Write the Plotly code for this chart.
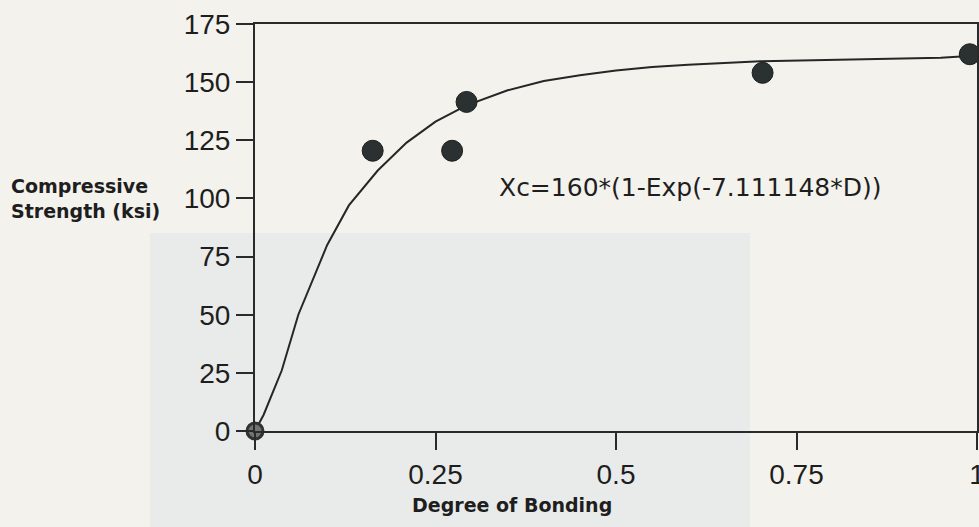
import plotly.graph_objects as go

# Measured data points (Degree of Bonding vs Compressive Strength, ksi)
bond_x = [0.0, 0.163, 0.273, 0.293, 0.703, 0.99]
strength_y = [0.0, 120.5, 120.5, 141.5, 154.0, 162.0]

# Fitted curve
curve_x = [0.0, 0.012, 0.037, 0.06, 0.1, 0.13, 0.17, 0.21, 0.25, 0.293, 0.35, 0.4,
           0.45, 0.5, 0.55, 0.6, 0.7, 0.8, 0.9, 0.95, 1.0]
curve_y = [0.0, 7.0, 26.0, 50.0, 80.0, 97.0, 112.0, 124.0, 133.0, 140.0, 146.5, 150.5,
           153.0, 155.0, 156.5, 157.5, 159.0, 159.5, 160.0, 160.5, 161.5]

x_ticks = [0, 0.25, 0.5, 0.75, 1]
x_tick_labels = ["0", "0.25", "0.5", "0.75", "1"]
y_ticks = [0, 25, 50, 75, 100, 125, 150, 175]
y_tick_labels = ["0", "25", "50", "75", "100", "125", "150", "175"]

equation = "Xc=160*(1-Exp(-7.111148*D))"
x_title = "Degree of Bonding"
y_title = "Compressive<br>Strength (ksi)"

W, H = 979, 527
L, R, T, B = 255, 2, 24, 96
PW, PH = W - L - R, H - T - B
BG = "#f3f2ed"


def px(xp):
    return (xp - L) / PW


def py(yp):
    return (H - B - yp) / PH


fig = go.Figure()

fig.add_trace(go.Scatter(
    x=curve_x, y=curve_y, mode="lines",
    line=dict(color="#262626", width=2),
    hoverinfo="skip", showlegend=False,
))

fig.add_trace(go.Scatter(
    x=bond_x[1:], y=strength_y[1:], mode="markers",
    marker=dict(size=21, color="#2b3030", line=dict(color="#1c1f1f", width=1)),
    cliponaxis=False, showlegend=False,
))
fig.add_trace(go.Scatter(
    x=bond_x[:1], y=strength_y[:1], mode="markers",
    marker=dict(size=16, color="#6d7472", line=dict(color="#2e3332", width=3)),
    cliponaxis=False, showlegend=False,
))

axis_common = dict(
    showgrid=False, zeroline=False, automargin=False,
    showline=True, linecolor="#2a2a2a", linewidth=2, mirror=True,
    ticks="outside", tickwidth=2, tickcolor="#2a2a2a",
    ticklabeloverflow="allow",
    tickfont=dict(family="Liberation Sans", size=28, color="#1e1e1e"),
)

fig.update_layout(
    width=W, height=H,
    margin=dict(l=L, r=R, t=T, b=B, autoexpand=False),
    paper_bgcolor=BG,
    plot_bgcolor="rgba(0,0,0,0)",
    font=dict(family="Liberation Sans", color="#1e1e1e"),
    xaxis=dict(range=[0, 1.0], tickvals=x_ticks, ticktext=x_tick_labels,
               ticklen=17, **axis_common),
    yaxis=dict(range=[0, 175], tickvals=y_ticks, ticktext=y_tick_labels,
               ticklen=17, **axis_common),
    shapes=[
        dict(type="rect", xref="paper", yref="paper", x0=px(150), x1=px(750),
             y0=py(H), y1=py(233),
             fillcolor="#e8ebea", line=dict(width=0), layer="below"),
    ],
    annotations=[
        dict(text=equation, xref="paper", yref="paper", x=px(497), y=py(187),
             xanchor="left", yanchor="middle", showarrow=False,
             font=dict(family="DejaVu Sans", size=25, color="#1e1e1e")),
        dict(text="<b>" + x_title + "</b>", xref="paper", yref="paper",
             x=px(512), y=py(505), xanchor="center", yanchor="middle", showarrow=False,
             font=dict(family="DejaVu Sans", size=19, color="#1e1e1e")),
        dict(text="<b>" + y_title + "</b>", xref="paper", yref="paper",
             x=px(9), y=py(198), xanchor="left", yanchor="middle", align="left",
             showarrow=False,
             font=dict(family="DejaVu Sans", size=19, color="#1e1e1e")),
    ],
)

fig.write_html(
    "out.html",
    config={"displayModeBar": False},
    post_script="document.body.style.margin='0';document.body.style.background='%s';" % BG,
)
